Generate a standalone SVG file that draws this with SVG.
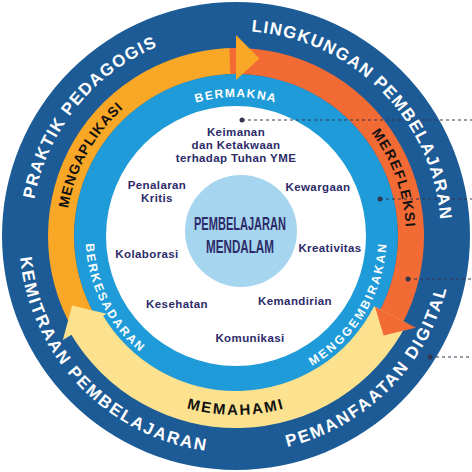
<svg xmlns="http://www.w3.org/2000/svg" width="472" height="472" viewBox="0 0 472 472">
<style>
.outer{font-family:"Liberation Sans",Arial,sans-serif;font-weight:700;font-size:17px;fill:#fff}
.mid{font-family:"Liberation Sans",Arial,sans-serif;font-weight:700;font-size:14px;fill:#111}
.inner{font-family:"Liberation Sans",Arial,sans-serif;font-weight:700;font-size:12px;fill:#fff}
.item{font-family:"Liberation Sans",Arial,sans-serif;font-weight:700;font-size:11.5px;fill:#2d2b69;text-anchor:middle;letter-spacing:0.4px}
.core{font-family:"Liberation Sans",Arial,sans-serif;font-weight:700;font-size:18px;fill:#2d2b69;text-anchor:middle}
.lead{stroke:#33364f;stroke-width:1;stroke-dasharray:3 3;fill:none}
.dot{fill:#33364f}
</style>
<defs>
<path id="pPraktik" d="M81.29,370.5 A205,205 0 0 1 335.39,56.7"/>
<path id="pLingkungan" d="M118.42,68.07 A205,205 0 0 1 403.93,353.58"/>
<path id="pPemanfaatan" d="M111.53,413.76 A217,217 0 0 0 413.76,111.53"/>
<path id="pKemitraan" d="M60.44,108.45 A217,217 0 0 0 357.35,415.9"/>
<path id="pMengaplikasi" d="M129.02,368.11 A170,170 0 0 1 291.35,75.26"/>
<path id="pMerefleksi" d="M206.48,68.58 A170,170 0 0 1 321,383.22"/>
<path id="pMemahami" d="M59.72,267.08 A179,179 0 0 0 412.28,267.08"/>
<path id="pBermakna" d="M99.11,211.86 A139,139 0 0 1 372.89,211.86"/>
<path id="pBerkesadaran" d="M145.43,115.81 A150.5,150.5 0 0 0 280,379.92"/>
<path id="pMenggembirakan" d="M182.06,376.51 A150.5,150.5 0 0 0 334.74,122.42"/>
</defs>

<g id="rings">
<circle cx="236" cy="236" r="234" fill="#1c5b96"/>
<circle cx="236" cy="236" r="162" fill="#1e9bd8"/>
<circle cx="236" cy="236" r="130" fill="#ffffff"/>
</g>

<g id="connectors">
<path fill="#f9a727" d="M73.19,330 A188,188 0 0 1 239.28,48.03 L238.83,74.02 A162,162 0 0 0 95.7,317 Z"/>
<path fill="#f26b35" d="M229.44,48.11 A188,188 0 0 1 401.99,324.27 L379.03,312.06 A162,162 0 0 0 230.35,74.1 Z"/>
<path fill="#fce18f" d="M407.07,323.17 A192,192 0 0 1 69.72,332 L101.77,313.5 A155,155 0 0 0 374.11,306.37 Z"/>
<path fill="#f26b35" d="M415.98,327.71 L383.57,335.54 L375,306.82 Z"/>
<path fill="#fce18f" d="M62.85,340.03 L72.15,305.55 L106.57,313.77 Z"/>
<path fill="#f9a727" d="M236,35 L259.36,58.54 L236,80 Z"/>
<line class="lead" x1="242" y1="120" x2="472" y2="120"/>
<line class="lead" x1="380" y1="199" x2="472" y2="199"/>
<line class="lead" x1="408" y1="279" x2="472" y2="279"/>
<line class="lead" x1="430" y1="357" x2="472" y2="357"/>
<circle class="dot" cx="242" cy="120" r="2.5"/>
<circle class="dot" cx="380" cy="199" r="2.5"/>
<circle class="dot" cx="408" cy="279" r="2.5"/>
<circle class="dot" cx="430" cy="357" r="2.5"/>
</g>

<g id="outer-labels">
<g id="praktik-pedagogis"><text class="outer" letter-spacing="1.3" text-anchor="middle"><textPath href="#pPraktik" startOffset="50%">PRAKTIK PEDAGOGIS</textPath></text></g>
<g id="lingkungan-pembelajaran"><text class="outer" letter-spacing="1.3" text-anchor="middle"><textPath href="#pLingkungan" startOffset="50%">LINGKUNGAN PEMBELAJARAN</textPath></text></g>
<g id="pemanfaatan-digital"><text class="outer" letter-spacing="2" text-anchor="middle"><textPath href="#pPemanfaatan" startOffset="50%">PEMANFAATAN DIGITAL</textPath></text></g>
<g id="kemitraan-pembelajaran"><text class="outer" letter-spacing="1.9" text-anchor="middle"><textPath href="#pKemitraan" startOffset="50%">KEMITRAAN PEMBELAJARAN</textPath></text></g>
</g>

<g id="cycle-labels">
<g id="mengaplikasi"><text class="mid" letter-spacing="0.8" text-anchor="middle"><textPath href="#pMengaplikasi" startOffset="50%">MENGAPLIKASI</textPath></text></g>
<g id="merefleksi"><text class="mid" letter-spacing="1.3" text-anchor="middle"><textPath href="#pMerefleksi" startOffset="50%">MEREFLEKSI</textPath></text></g>
<g id="memahami"><text class="mid" style="font-size:15px" letter-spacing="2" text-anchor="middle"><textPath href="#pMemahami" startOffset="50%">MEMAHAMI</textPath></text></g>
</g>

<g id="ring-labels">
<g id="bermakna"><text class="inner" letter-spacing="1.4" text-anchor="middle"><textPath href="#pBermakna" startOffset="50%">BERMAKNA</textPath></text></g>
<g id="berkesadaran"><text class="inner" letter-spacing="2" text-anchor="middle"><textPath href="#pBerkesadaran" startOffset="50%">BERKESADARAN</textPath></text></g>
<g id="menggembirakan"><text class="inner" letter-spacing="2.3" text-anchor="middle"><textPath href="#pMenggembirakan" startOffset="50%">MENGGEMBIRAKAN</textPath></text></g>
</g>

<g id="core">
<circle cx="241" cy="231" r="56" fill="#a6d5ef"/>
<text class="core" x="240" y="229.5" textLength="92" lengthAdjust="spacingAndGlyphs">PEMBELAJARAN</text>
<text class="core" x="240" y="252.5" textLength="68" lengthAdjust="spacingAndGlyphs">MENDALAM</text>
</g>

<g id="keimanan"><text class="item" x="236" y="136">Keimanan</text><text class="item" x="236" y="149">dan Ketakwaan</text><text class="item" x="236" y="162">terhadap Tuhan YME</text></g>
<g id="penalaran-kritis"><text class="item" x="157" y="189">Penalaran</text><text class="item" x="157" y="202">Kritis</text></g>
<g id="kewargaan"><text class="item" x="318" y="191">Kewargaan</text></g>
<g id="kolaborasi"><text class="item" x="147" y="258">Kolaborasi</text></g>
<g id="kreativitas"><text class="item" x="330" y="252">Kreativitas</text></g>
<g id="kesehatan"><text class="item" x="177" y="308">Kesehatan</text></g>
<g id="kemandirian"><text class="item" x="295" y="305">Kemandirian</text></g>
<g id="komunikasi"><text class="item" x="250" y="342">Komunikasi</text></g>
</svg>
